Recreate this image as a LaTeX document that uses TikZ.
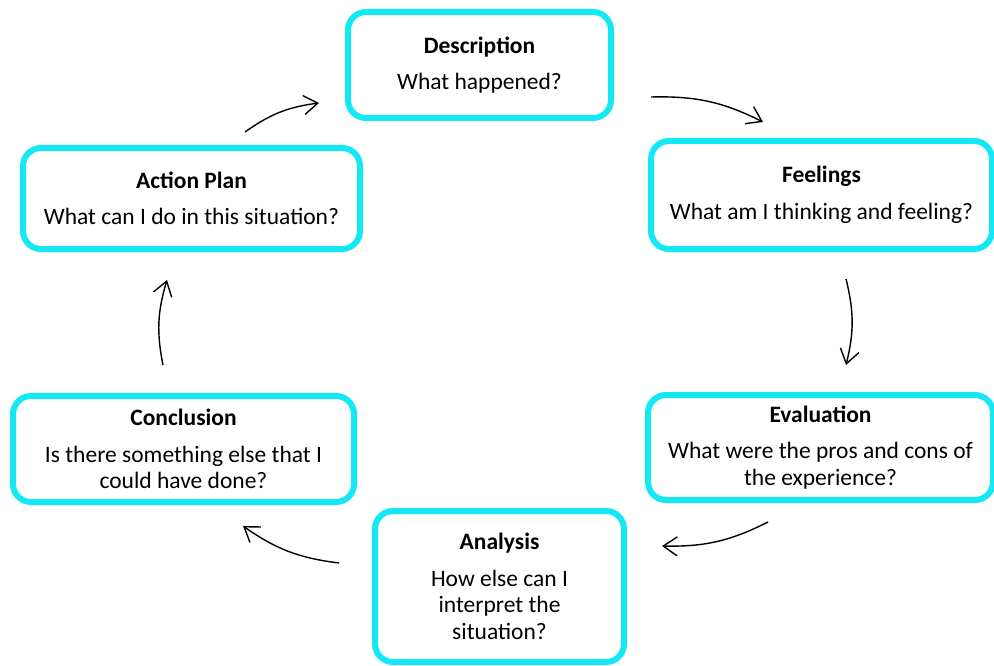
\documentclass[tikz,border=0pt]{standalone}
\usepackage{fontspec}
\setmainfont{Carlito}
\usetikzlibrary{arrows.meta}
\definecolor{boxcyan}{RGB}{20,232,245}
\begin{document}
\begin{tikzpicture}[x=1pt,y=-1pt,
  stage/.style={draw=boxcyan, line width=6pt, rounded corners=18pt, fill=white,
    inner sep=0pt, align=center, font=\fontsize{23.5}{26.5}\selectfont},
  flow/.style={line width=1.4pt, -{Straight Barb[length=14pt,width=19pt,line width=1.4pt]}, bend left=14}]
\useasboundingbox (0,0) rectangle (994,666);

\node[stage, minimum width=263pt, minimum height=106pt] (desc) at (479.5,65)
  {\textbf{Description}\\[10pt]What happened?};
\node[stage, minimum width=341pt, minimum height=108pt] (feel) at (821.5,195)
  {\textbf{Feelings}\\[10pt]What am I thinking and feeling?};
\node[stage, minimum width=345pt, minimum height=105pt] (eval) at (820.5,447.5)
  {\textbf{Evaluation}\\[10pt]What were the pros and cons of\\the experience?};
\node[stage, minimum width=249pt, minimum height=151pt] (anal) at (499.5,586.5)
  {\textbf{Analysis}\\[10pt]How else can I\\interpret the\\situation?};
\node[stage, minimum width=341pt, minimum height=106pt] (conc) at (183.5,449)
  {\textbf{Conclusion}\\[10pt]Is there something else that I\\could have done?};
\node[stage, minimum width=337pt, minimum height=101pt] (act) at (191.5,198.5)
  {\textbf{Action Plan}\\[10pt]What can I do in this situation?};

\coordinate (a1s) at (245,132); \coordinate (a1e) at (319,103);
\coordinate (a2s) at (651,97);  \coordinate (a2e) at (763,122);
\coordinate (a3s) at (846,279); \coordinate (a3e) at (846,365);
\coordinate (a4s) at (768,522); \coordinate (a4e) at (662,546);
\coordinate (a5s) at (339,563); \coordinate (a5e) at (243,526);
\coordinate (a6s) at (163,365); \coordinate (a6e) at (167,280);

\draw[flow] (a1s) to (a1e);
\draw[flow] (a2s) to (a2e);
\draw[flow] (a3s) to (a3e);
\draw[flow] (a4s) to (a4e);
\draw[flow] (a5s) to (a5e);
\draw[flow] (a6s) to (a6e);
\end{tikzpicture}
\end{document}
